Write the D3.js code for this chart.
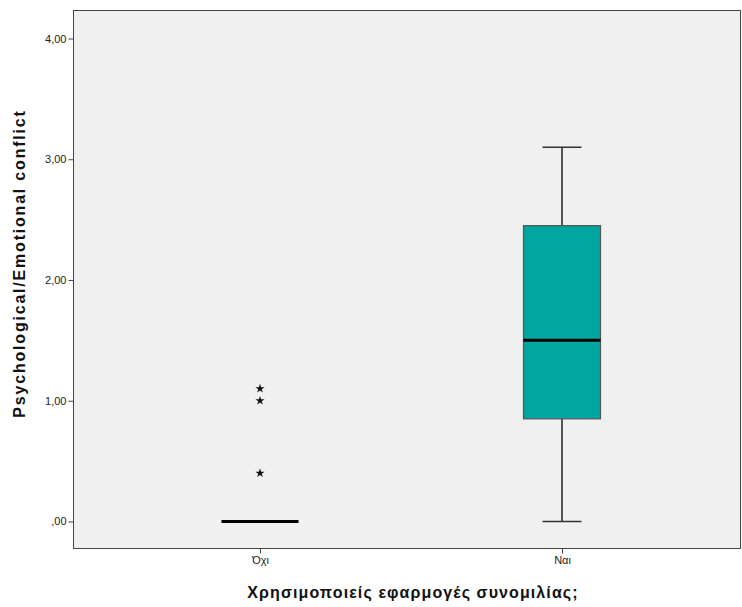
<!DOCTYPE html>
<html><head><meta charset="utf-8">
<script src="https://cdn.jsdelivr.net/npm/d3@7"></script>
<style>body{margin:0;background:#fff}svg{display:block}</style>
</head><body>
<script>
const categories = ["Όχι", "Ναι"];
// box stats per category: min, q1, median, q3, max
const mins    = [0.00, 0.00];
const q1s     = [0.00, 0.85];
const medians = [0.00, 1.50];
const q3s     = [0.00, 2.45];
const maxs    = [0.00, 3.10];
const outliers = [[0.40, 1.00, 1.10], []];
const yTicks = [0, 1, 2, 3, 4];
const yTitle = "Psychological/Emotional conflict";
const xTitle = "Χρησιμοποιείς εφαρμογές συνομιλίας;";

const W = 742, H = 607;
const L = 73.5, R = 740.5, T = 10.5, B = 548.5;
const svg = d3.select("body").append("svg").attr("width", W).attr("height", H);

const y = d3.scaleLinear().domain([-0.224, 4.232]).range([B, T]);
const x = d3.scalePoint().domain(categories).range([260, 562]).padding(0);

svg.append("rect").attr("x", L).attr("y", T).attr("width", R - L).attr("height", B - T)
  .attr("fill", "#f0f0f0").attr("stroke", "#444").attr("stroke-width", 1);

const fmt = v => v.toFixed(2).replace(".", ",").replace(/^0,/, ",");
const yAxis = d3.axisLeft(y).tickValues(yTicks).tickFormat(fmt).tickSize(5).tickPadding(2);
const gy = svg.append("g").attr("transform", `translate(${L},0)`).call(yAxis);
gy.select(".domain").remove();
gy.selectAll("line").attr("stroke", "#444");
gy.selectAll("text").attr("font-family", "Liberation Sans, Arial, sans-serif").attr("font-size", 11).attr("fill", "#222");

const xAxis = d3.axisBottom(x).tickSize(5).tickPadding(3);
const gx = svg.append("g").attr("transform", `translate(0,${B})`).call(xAxis);
gx.select(".domain").remove();
gx.selectAll("line").attr("stroke", "#444");
gx.selectAll("text").attr("font-family", "Liberation Sans, Arial, sans-serif").attr("font-size", 11).attr("fill", "#222");

const boxW = 77, capW = 39;
categories.forEach((c, i) => {
  const cx = x(c);
  const g = svg.append("g");
  if (q3s[i] > q1s[i]) {
    g.append("line").attr("x1", cx).attr("x2", cx).attr("y1", y(maxs[i])).attr("y2", y(q3s[i])).attr("stroke", "#222").attr("stroke-width", 1.5);
    g.append("line").attr("x1", cx).attr("x2", cx).attr("y1", y(q1s[i])).attr("y2", y(mins[i])).attr("stroke", "#222").attr("stroke-width", 1.5);
    g.append("line").attr("x1", cx - capW / 2).attr("x2", cx + capW / 2).attr("y1", y(maxs[i])).attr("y2", y(maxs[i])).attr("stroke", "#333").attr("stroke-width", 1.5);
    g.append("line").attr("x1", cx - capW / 2).attr("x2", cx + capW / 2).attr("y1", y(mins[i])).attr("y2", y(mins[i])).attr("stroke", "#333").attr("stroke-width", 1.5);
    g.append("rect").attr("x", cx - boxW / 2).attr("y", y(q3s[i])).attr("width", boxW).attr("height", y(q1s[i]) - y(q3s[i]))
      .attr("fill", "#00a6a0").attr("stroke", "#555").attr("stroke-width", 1.2);
  }
  g.append("line").attr("x1", cx - boxW / 2).attr("x2", cx + boxW / 2).attr("y1", y(medians[i])).attr("y2", y(medians[i]))
    .attr("stroke", "#000").attr("stroke-width", 3);
  outliers[i].forEach(v => {
    g.append("path").attr("d", d3.symbol(d3.symbolStar, 26)())
      .attr("transform", `translate(${cx},${y(v)})`).attr("fill", "#111");
  });
});

svg.append("text").attr("transform", `translate(25,${(T + B) / 2 - 16}) rotate(-90)`)
  .attr("text-anchor", "middle").attr("font-family", "Liberation Sans, Arial, sans-serif")
  .attr("font-weight", "bold").attr("font-size", 16).attr("letter-spacing", 1.8).attr("fill", "#111").text(yTitle);
svg.append("text").attr("x", 413).attr("y", 598)
  .attr("text-anchor", "middle").attr("font-family", "Liberation Sans, Arial, sans-serif")
  .attr("font-weight", "bold").attr("font-size", 16).attr("letter-spacing", 1.1).attr("fill", "#111").text(xTitle);
</script>
</body></html>
